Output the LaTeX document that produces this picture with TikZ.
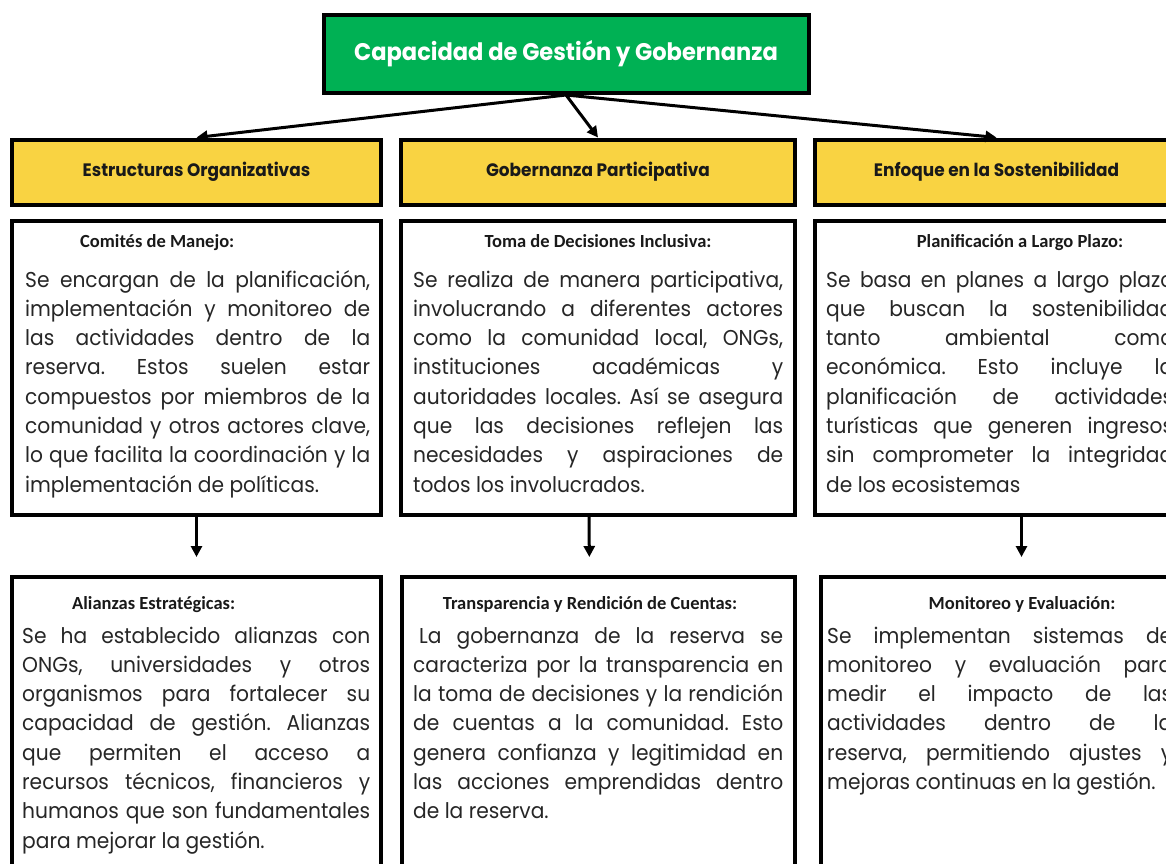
\documentclass[tikz,border=0pt]{standalone}
\usepackage{fontspec}
\setmainfont{Poppins}[FakeStretch=0.94]
\newfontfamily\subfont{Carlito}
\usetikzlibrary{arrows.meta}
\frenchspacing

\definecolor{titlegreen}{RGB}{0,177,84}
\definecolor{headyellow}{RGB}{249,211,66}

\tikzset{
  frame/.style={draw=black, line width=4pt, inner sep=0pt},
  titlebox/.style={frame, fill=titlegreen, minimum width=485pt, minimum height=78pt,
    text=white, font=\bfseries\fontsize{24}{28}\selectfont},
  headbox/.style={frame, fill=headyellow, minimum height=65pt, text=black!90,
    font=\bfseries\fontsize{18}{22}\selectfont},
  infobox/.style={frame, fill=white},
  subhead/.style={inner sep=0pt, text=black!90, font=\subfont\bfseries\fontsize{18.5}{20}\selectfont},
  bodytext/.style={inner sep=0pt, anchor=base west, align=justify, text=black!85,
    font=\fontsize{21.5}{29.3}\selectfont},
  arr/.style={line width=3pt, -{Triangle[length=11pt,width=11pt]}}
}

\begin{document}
\begin{tikzpicture}[x=1pt,y=-1pt]
    \useasboundingbox (0,0) rectangle (1166,863);
    \clip (0,0) rectangle (1166,863);

    % Title
    \node[titlebox] (title) at (566,54) {Capacidad de Gestión y Gobernanza};

    % Column heads
    \node[headbox, minimum width=369pt] (org) at (196.5,172) {Estructuras Organizativas};
    \node[headbox, minimum width=394pt] (gob) at (598,172) {Gobernanza Participativa};
    \node[headbox, minimum width=363pt] (sos) at (996.5,172) {Enfoque en la Sostenibilidad};

    \draw[arr] (title.south) -- (org.north);
    \draw[arr] (title.south) -- (gob.north);
    \draw[arr] (title.south) -- (sos.north);

    % First row of boxes
    \node[infobox, minimum width=369pt, minimum height=294pt] (comites) at (196.5,368) {};
    \node[infobox, minimum width=394pt, minimum height=294pt] (toma) at (598,368) {};
    \node[infobox, minimum width=413pt, minimum height=294pt] (plan) at (1021.5,368) {};

    \node[subhead, anchor=base west] (comitesT) at (80,247) {Comités de Manejo:};
    \node[subhead, anchor=base] (tomaT) at (598,247) {Toma de Decisiones Inclusiva:};
    \node[subhead, anchor=base] (planT) at (1020,247) {Planificación a Largo Plazo:};

    \node[bodytext, text width=345pt] (comitesB) at (25,287) {Se encargan de la planificación,\linebreak
      implementación y monitoreo de\linebreak las actividades dentro de la\linebreak
      reserva. Estos suelen estar\linebreak compuestos por miembros de la\linebreak
      comunidad y otros actores clave,\linebreak lo que facilita la coordinación y la\linebreak
      implementación de políticas.};
    \node[bodytext, text width=370pt] (tomaB) at (413,287) {Se realiza de manera participativa,\linebreak
      involucrando a diferentes actores\linebreak como la comunidad local, ONGs,\linebreak
      instituciones académicas y\linebreak autoridades locales. Así se asegura\linebreak
      que las decisiones reflejen las\linebreak necesidades y aspiraciones de\linebreak
      todos los involucrados.};
    \node[bodytext, text width=347pt] (planB) at (826,287) {Se basa en planes a largo plazo\linebreak
      que buscan la sostenibilidad\linebreak tanto ambiental como\linebreak
      económica. Esto incluye la\linebreak planificación de actividades\linebreak
      turísticas que generen ingresos\linebreak sin comprometer la integridad\linebreak
      de los ecosistemas};

    % Second row of boxes
    \node[infobox, minimum width=369pt, minimum height=326pt] (alianzas) at (196.5,740) {};
    \node[infobox, minimum width=393pt, minimum height=326pt] (transp) at (598.5,740) {};
    \node[infobox, minimum width=407pt, minimum height=326pt] (monit) at (1024.5,740) {};

    \node[subhead, anchor=base west] (alianzasT) at (72,609) {Alianzas Estratégicas:};
    \node[subhead, anchor=base] (transpT) at (590,609) {Transparencia y Rendición de Cuentas:};
    \node[subhead, anchor=base] (monitT) at (1022,609) {Monitoreo y Evaluación:};

    \node[bodytext, text width=348pt] (alianzasB) at (22,643) {Se ha establecido alianzas con\linebreak
      ONGs, universidades y otros\linebreak organismos para fortalecer su\linebreak
      capacidad de gestión. Alianzas\linebreak que permiten el acceso a\linebreak
      recursos técnicos, financieros y\linebreak humanos que son fundamentales\linebreak
      para mejorar la gestión.};
    \node[bodytext, text width=370pt] (transpB) at (413,643) {\hspace*{6pt}La gobernanza de la reserva se\linebreak
      caracteriza por la transparencia en\linebreak la toma de decisiones y la rendición\linebreak
      de cuentas a la comunidad. Esto\linebreak genera confianza y legitimidad en\linebreak
      las acciones emprendidas dentro\linebreak de la reserva.};
    \node[bodytext, text width=345pt] (monitB) at (827,643) {Se implementan sistemas de\linebreak
      monitoreo y evaluación para\linebreak medir el impacto de las\linebreak
      actividades dentro de la\linebreak reserva, permitiendo ajustes y\linebreak
      mejoras continuas en la gestión.};

    % Row to row
    \draw[arr, shorten >=18pt] (comites.south) -- (alianzas.north -| comites.south);
    \draw[arr, shorten >=18pt] ([xshift=-9pt]toma.south) -- ([xshift=-9pt]transp.north);
    \draw[arr, shorten >=18pt] (plan.south) -- (plan.south |- monit.north);
\end{tikzpicture}
\end{document}
